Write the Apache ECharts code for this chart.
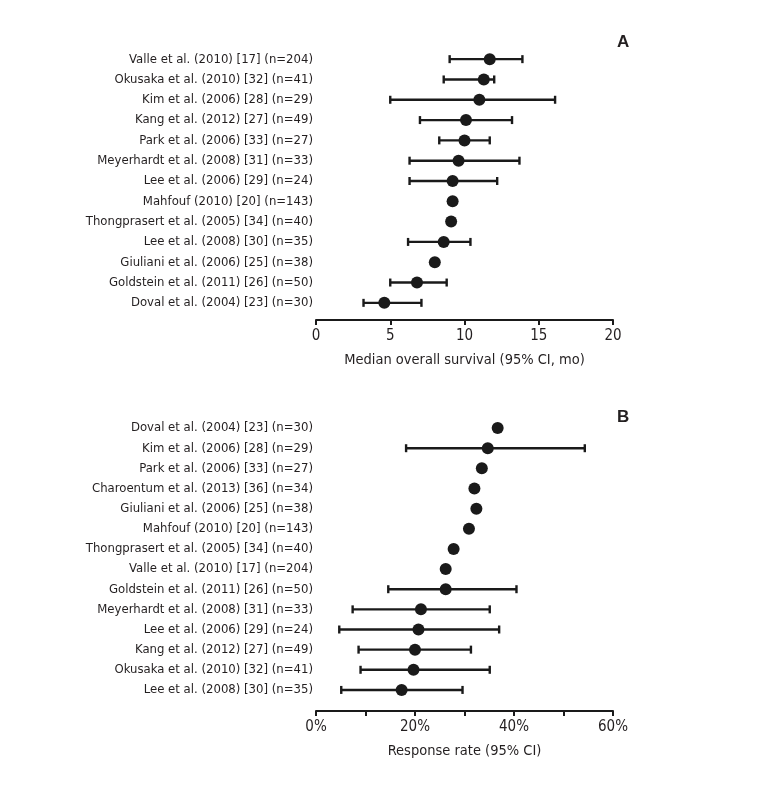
<!DOCTYPE html>
<html>
<head>
<meta charset="utf-8">
<script src="https://cdn.jsdelivr.net/npm/echarts@6/dist/echarts.min.js"></script>
<style>
html,body{margin:0;padding:0;background:#fff;}
#chart{width:761px;height:788px;}
</style>
</head>
<body>
<div id="chart"></div>
<script>
// Panel A: median overall survival (months)
var studiesA = [
  'Valle et al. (2010) [17] (n=204)',
  'Okusaka et al. (2010) [32] (n=41)',
  'Kim et al. (2006) [28] (n=29)',
  'Kang et al. (2012) [27] (n=49)',
  'Park et al. (2006) [33] (n=27)',
  'Meyerhardt et al. (2008) [31] (n=33)',
  'Lee et al. (2006) [29] (n=24)',
  'Mahfouf (2010) [20] (n=143)',
  'Thongprasert et al. (2005) [34] (n=40)',
  'Lee et al. (2008) [30] (n=35)',
  'Giuliani et al. (2006) [25] (n=38)',
  'Goldstein et al. (2011) [26] (n=50)',
  'Doval et al. (2004) [23] (n=30)'
];
var medianA = [11.7, 11.3, 11.0, 10.1, 10.0, 9.6, 9.2, 9.2, 9.1, 8.6, 8.0, 6.8, 4.6];
var lowA    = [9.0, 8.6, 5.0, 7.0, 8.3, 6.3, 6.3, null, null, 6.2, null, 5.0, 3.2];
var highA   = [13.9, 12.0, 16.1, 13.2, 11.7, 13.7, 12.2, null, null, 10.4, null, 8.8, 7.1];
var ticksA = [0, 5, 10, 15, 20];

// Panel B: response rate (%)
var studiesB = [
  'Doval et al. (2004) [23] (n=30)',
  'Kim et al. (2006) [28] (n=29)',
  'Park et al. (2006) [33] (n=27)',
  'Charoentum et al. (2013) [36] (n=34)',
  'Giuliani et al. (2006) [25] (n=38)',
  'Mahfouf (2010) [20] (n=143)',
  'Thongprasert et al. (2005) [34] (n=40)',
  'Valle et al. (2010) [17] (n=204)',
  'Goldstein et al. (2011) [26] (n=50)',
  'Meyerhardt et al. (2008) [31] (n=33)',
  'Lee et al. (2006) [29] (n=24)',
  'Kang et al. (2012) [27] (n=49)',
  'Okusaka et al. (2010) [32] (n=41)',
  'Lee et al. (2008) [30] (n=35)'
];
var rateB = [36.7, 34.7, 33.5, 32.0, 32.4, 30.9, 27.8, 26.2, 26.2, 21.2, 20.7, 20.0, 19.7, 17.3];
var lowB  = [null, 18.2, null, null, null, null, null, null, 14.6, 7.4, 4.7, 8.6, 9.0, 5.1];
var highB = [null, 54.3, null, null, null, null, null, null, 40.5, 35.1, 37.0, 31.3, 35.1, 29.6];
var ticksB = [0, 20, 40, 60];

var FONT = '"Liberation Sans Narrow", "DejaVu Sans Condensed", "Roboto Condensed", sans-serif';
var TXT = '#231f20';
var INK = '#1a1a1a';

function ciData(cats, lo, hi) {
  var d = [];
  for (var i = 0; i < cats.length; i++) {
    if (lo[i] != null && hi[i] != null) d.push([lo[i], hi[i], i]);
  }
  return d;
}

function renderCI(params, api) {
  var p1 = api.coord([api.value(0), api.value(2)]);
  var p2 = api.coord([api.value(1), api.value(2)]);
  var cap = 4;
  var style = { stroke: INK, lineWidth: 2.4 };
  return {
    type: 'group',
    children: [
      { type: 'line', shape: { x1: p1[0], y1: p1[1], x2: p2[0], y2: p2[1] }, style: style },
      { type: 'line', shape: { x1: p1[0], y1: p1[1] - cap, x2: p1[0], y2: p1[1] + cap }, style: style },
      { type: 'line', shape: { x1: p2[0], y1: p2[1] - cap, x2: p2[0], y2: p2[1] + cap }, style: style }
    ]
  };
}

var chart = echarts.init(document.getElementById('chart'), null, { renderer: 'canvas' });

var option = {
  backgroundColor: '#ffffff',
  animation: false,
  textStyle: { fontFamily: FONT },
  title: [
    { text: 'A', left: 612, top: 29, textStyle: { fontSize: 17, fontWeight: 'bold', color: TXT, fontFamily: 'Liberation Sans, Arial, sans-serif' } },
    { text: 'B', left: 612, top: 404, textStyle: { fontSize: 17, fontWeight: 'bold', color: TXT, fontFamily: 'Liberation Sans, Arial, sans-serif' } }
  ],
  grid: [
    { left: 316, width: 297, top: 49, height: 264 },
    { left: 316, width: 297, top: 418, height: 282 }
  ],
  xAxis: [
    {
      gridIndex: 0, type: 'value', min: 0, max: 20, interval: 5, offset: 7,
      name: 'Median overall survival (95% CI, mo)', nameLocation: 'middle', nameGap: 33,
      nameTextStyle: { fontSize: 14.5, color: TXT, fontFamily: FONT },
      axisLine: { show: true, lineStyle: { color: INK, width: 2 } },
      axisTick: { show: true, length: 5, lineStyle: { color: INK, width: 2 } },
      axisLabel: { fontSize: 15, color: TXT, fontFamily: FONT, margin: 9,
        formatter: function (v) { return ticksA.indexOf(v) >= 0 ? String(v) : ''; } },
      splitLine: { show: false }
    },
    {
      gridIndex: 1, type: 'value', min: 0, max: 60, interval: 10, offset: 11,
      name: 'Response rate (95% CI)', nameLocation: 'middle', nameGap: 33,
      nameTextStyle: { fontSize: 14.5, color: TXT, fontFamily: FONT },
      axisLine: { show: true, lineStyle: { color: INK, width: 2 } },
      axisTick: { show: true, length: 5, lineStyle: { color: INK, width: 2 } },
      axisLabel: { fontSize: 15, color: TXT, fontFamily: FONT, margin: 9,
        formatter: function (v) { return ticksB.indexOf(v) >= 0 ? v + '%' : ''; } },
      splitLine: { show: false }
    }
  ],
  yAxis: [
    {
      gridIndex: 0, type: 'category', data: studiesA, inverse: true,
      axisLine: { show: false }, axisTick: { show: false },
      axisLabel: { fontSize: 13, color: TXT, fontFamily: FONT, margin: 3 }
    },
    {
      gridIndex: 1, type: 'category', data: studiesB, inverse: true,
      axisLine: { show: false }, axisTick: { show: false },
      axisLabel: { fontSize: 13, color: TXT, fontFamily: FONT, margin: 3 }
    }
  ],
  series: [
    {
      type: 'custom', xAxisIndex: 0, yAxisIndex: 0,
      renderItem: renderCI, encode: { x: [0, 1], y: 2 },
      data: ciData(studiesA, lowA, highA), z: 1
    },
    {
      type: 'scatter', xAxisIndex: 0, yAxisIndex: 0, symbol: 'circle', symbolSize: 12,
      itemStyle: { color: INK, opacity: 1 }, z: 2,
      data: medianA.map(function (v, i) { return [v, i]; })
    },
    {
      type: 'custom', xAxisIndex: 1, yAxisIndex: 1,
      renderItem: renderCI, encode: { x: [0, 1], y: 2 },
      data: ciData(studiesB, lowB, highB), z: 1
    },
    {
      type: 'scatter', xAxisIndex: 1, yAxisIndex: 1, symbol: 'circle', symbolSize: 12,
      itemStyle: { color: INK, opacity: 1 }, z: 2,
      data: rateB.map(function (v, i) { return [v, i]; })
    }
  ]
};
chart.setOption(option);
</script>
</body>
</html>
